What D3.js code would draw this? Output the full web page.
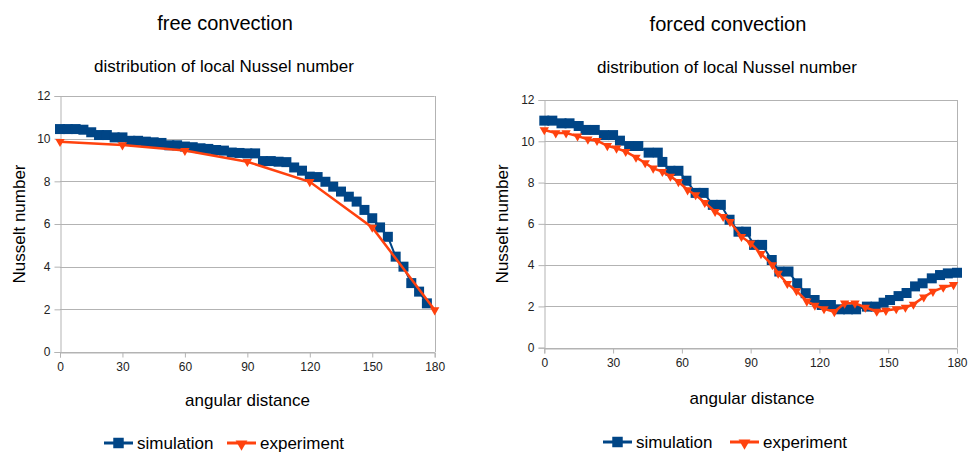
<!DOCTYPE html>
<html>
<head>
<meta charset="utf-8">
<script src="https://cdn.jsdelivr.net/npm/d3@7"></script>
<style>
  body { margin: 0; background: #fff; }
  text { font-family: "Liberation Sans", Arial, sans-serif; fill: #000; }
</style>
</head>
<body>
<svg id="chart" width="968" height="453"></svg>
<script>
// free convection, simulation
var freeSimAngle = [0, 3.75, 7.5, 11.25, 15, 18.75, 22.5, 26.25, 30, 33.75, 37.5, 41.25, 45, 48.75, 52.5, 56.25,
  60, 63.75, 67.5, 71.25, 75, 78.75, 82.5, 86.25, 90, 93.75, 97.5, 101.25, 105, 108.75, 112.5, 116.25,
  120, 123.75, 127.5, 131.25, 135, 138.75, 142.5, 146.25, 150, 153.75, 157.5, 161.25, 165, 168.75, 172.5, 176.25];
var freeSimNu = [10.45, 10.45, 10.45, 10.42, 10.3, 10.17, 10.17, 10.06, 10.06, 9.9, 9.9, 9.86, 9.83, 9.8, 9.69, 9.69,
  9.63, 9.6, 9.55, 9.52, 9.47, 9.44, 9.35, 9.33, 9.31, 9.31, 8.95, 8.95, 8.92, 8.9, 8.65, 8.5,
  8.22, 8.2, 7.98, 7.75, 7.52, 7.28, 7.05, 6.66, 6.27, 5.84, 5.4, 4.47, 4.0, 3.23, 2.83, 2.28];

// free convection, experiment
var freeExpAngle = [0, 30, 60, 90, 120, 150, 180];
var freeExpNu = [9.86, 9.7, 9.44, 8.92, 7.98, 5.84, 1.97];

// forced convection, simulation
var forcedSimAngle = [0, 3.5, 7.5, 11, 15, 18, 22, 26, 30, 33, 37, 41, 45.5, 49.5, 51.5, 55, 58.5, 62, 66, 69.5,
  73.5, 77, 80.8, 84.7, 88, 91.5, 95, 99.2, 102.5, 106.5, 110.3, 114, 117.9, 121, 125, 129, 132.5, 136,
  140.7, 144.5, 148, 150.8, 154.5, 158, 161.7, 165, 169, 172.6, 176, 180];
var forcedSimNu = [11.0, 11.0, 10.87, 10.87, 10.74, 10.55, 10.55, 10.3, 10.3, 10.03, 9.77, 9.77, 9.45, 9.45, 9.0, 8.57, 8.57, 8.09, 7.5, 7.5,
  6.92, 6.92, 6.2, 5.62, 5.62, 4.98, 4.98, 4.25, 3.69, 3.69, 3.12, 2.64, 2.31, 2.07, 2.07, 1.86, 1.86, 1.86,
  1.99, 1.99, 2.18, 2.31, 2.5, 2.65, 2.97, 3.12, 3.36, 3.52, 3.6, 3.63];

// forced convection, experiment
var forcedExpAngle = [0, 5, 9.5, 14.5, 19, 23, 27.5, 31.5, 35.5, 40, 44, 47.5, 51.5, 55, 58.5, 62.5, 66, 70, 74.5, 78, 81,
  86, 90, 94.5, 99.5, 102, 106, 110, 114.5, 118, 122, 126.5, 131, 135.5, 140, 145, 149, 153.5, 157.5, 161, 165.5, 169.5, 174, 178.5];
var forcedExpNu = [10.55, 10.4, 10.4, 10.25, 10.1, 10.03, 9.78, 9.66, 9.5, 9.22, 8.95, 8.69, 8.53, 8.3, 8.04, 7.64, 7.4, 7.03, 6.59, 6.35, 6.1,
  5.38, 5.06, 4.55, 4.01, 3.6, 3.1, 2.75, 2.25, 2.05, 1.88, 1.74, 2.15, 2.15, 1.95, 1.76, 1.8, 1.88, 1.95, 2.1, 2.45, 2.72, 2.92, 3.05];

var xTicks = [0, 30, 60, 90, 120, 150, 180];
var yTicks = [0, 2, 4, 6, 8, 10, 12];
var seriesNames = ["simulation", "experiment"];

var simColor = "#004586",
    expColor = "#ff420e",
    gridColor = "#b3b3b3";

var svg = d3.select("#chart");

function zip(xs, ys) {
  return xs.map(function(x, i) { return {x: x, y: ys[i]}; });
}

var drawPanel = function(opt) {
  var g = svg.append("g");

  var x = d3.scaleLinear().domain([0, 180]).range([opt.left, opt.right]);
  var y = d3.scaleLinear().domain([0, 12]).range([opt.bottom, opt.top]);

  // horizontal grid
  g.selectAll(".grid")
    .data(yTicks)
    .enter().append("line")
    .attr("x1", opt.left).attr("x2", opt.right)
    .attr("y1", function(d) { return Math.round(y(d)) + 0.5; })
    .attr("y2", function(d) { return Math.round(y(d)) + 0.5; })
    .style("stroke", gridColor);

  // right border
  g.append("line")
    .attr("x1", Math.round(opt.right) + 0.5).attr("x2", Math.round(opt.right) + 0.5)
    .attr("y1", opt.top).attr("y2", opt.bottom)
    .style("stroke", gridColor);

  var xAxis = g.append("g")
    .attr("transform", "translate(0," + (Math.round(opt.bottom) + 0.5) + ")")
    .call(d3.axisBottom(x).tickValues(xTicks).tickSize(5).tickPadding(5));
  var yAxis = g.append("g")
    .attr("transform", "translate(" + (Math.round(opt.left) + 0.5) + ",0)")
    .call(d3.axisLeft(y).tickValues(yTicks).tickSize(6).tickPadding(4));

  [xAxis, yAxis].forEach(function(a) {
    a.selectAll("path, line").style("stroke", gridColor);
    a.selectAll("text").style("font-size", "12px").style("font-family", "Liberation Sans, Arial, sans-serif").style("fill", "#222");
  });

  var line = d3.line()
    .x(function(d) { return x(d.x); })
    .y(function(d) { return y(d.y); });

  var sim = zip(opt.simAngle, opt.simNu),
      exp = zip(opt.expAngle, opt.expNu);

  g.append("path").datum(sim)
    .attr("d", line)
    .style("fill", "none").style("stroke", simColor).style("stroke-width", 2);
  g.selectAll(".sq")
    .data(sim)
    .enter().append("path")
    .attr("d", d3.symbol(d3.symbolSquare, 100))
    .attr("transform", function(d) { return "translate(" + x(d.x) + "," + y(d.y) + ")"; })
    .style("fill", simColor);

  g.append("path").datum(exp)
    .attr("d", line)
    .style("fill", "none").style("stroke", expColor).style("stroke-width", 2.5);
  g.selectAll(".tri")
    .data(exp)
    .enter().append("path")
    .attr("d", d3.symbol(d3.symbolTriangle, 38))
    .attr("transform", function(d) { return "translate(" + x(d.x) + "," + y(d.y) + ") rotate(180)"; })
    .style("fill", expColor);

  // titles
  g.append("text").attr("x", opt.titleX).attr("y", opt.titleY)
    .attr("text-anchor", "middle").style("font-size", "20px").text(opt.title);
  g.append("text").attr("x", opt.subX).attr("y", opt.subY)
    .attr("text-anchor", "middle").style("font-size", "17px").text("distribution of local Nussel number");
  g.append("text").attr("x", opt.xLabelX).attr("y", opt.xLabelY)
    .attr("text-anchor", "middle").style("font-size", "17px").text("angular distance");
  g.append("text")
    .attr("transform", "translate(" + opt.yLabelX + "," + ((opt.top + opt.bottom) / 2) + ") rotate(-90)")
    .attr("text-anchor", "middle").style("font-size", "17px").text("Nusselt number");

  // legend
  var lg = g.append("g").attr("transform", "translate(" + opt.legendX + "," + opt.legendY + ")");
  lg.append("line").attr("x1", 0).attr("x2", 29).attr("y1", 0).attr("y2", 0)
    .style("stroke", simColor).style("stroke-width", 3);
  lg.append("path").attr("d", d3.symbol(d3.symbolSquare, 110)).attr("transform", "translate(14.5,0)")
    .style("fill", simColor);
  lg.append("text").attr("x", 33).attr("y", 5.5).style("font-size", "17px").text(seriesNames[0]);
  lg.append("line").attr("x1", opt.legendGap).attr("x2", opt.legendGap + 29).attr("y1", 0).attr("y2", 0)
    .style("stroke", expColor).style("stroke-width", 3);
  lg.append("path").attr("d", d3.symbol(d3.symbolTriangle, 60))
    .attr("transform", "translate(" + (opt.legendGap + 14.5) + ",1) rotate(180)")
    .style("fill", expColor);
  lg.append("text").attr("x", opt.legendGap + 33).attr("y", 5.5).style("font-size", "17px").text(seriesNames[1]);
};

drawPanel({
  left: 60, right: 434.7, top: 96, bottom: 352,
  simAngle: freeSimAngle, simNu: freeSimNu, expAngle: freeExpAngle, expNu: freeExpNu,
  title: "free convection", titleX: 225, titleY: 30, subX: 224, subY: 72,
  xLabelX: 247.5, xLabelY: 406, yLabelX: 25,
  legendX: 104, legendY: 443, legendGap: 123
});

drawPanel({
  left: 544.3, right: 957, top: 100, bottom: 347.7,
  simAngle: forcedSimAngle, simNu: forcedSimNu, expAngle: forcedExpAngle, expNu: forcedExpNu,
  title: "forced convection", titleX: 728, titleY: 31, subX: 727, subY: 73,
  xLabelX: 752, xLabelY: 404, yLabelX: 508,
  legendX: 603, legendY: 442, legendGap: 127
});
</script>
</body>
</html>
